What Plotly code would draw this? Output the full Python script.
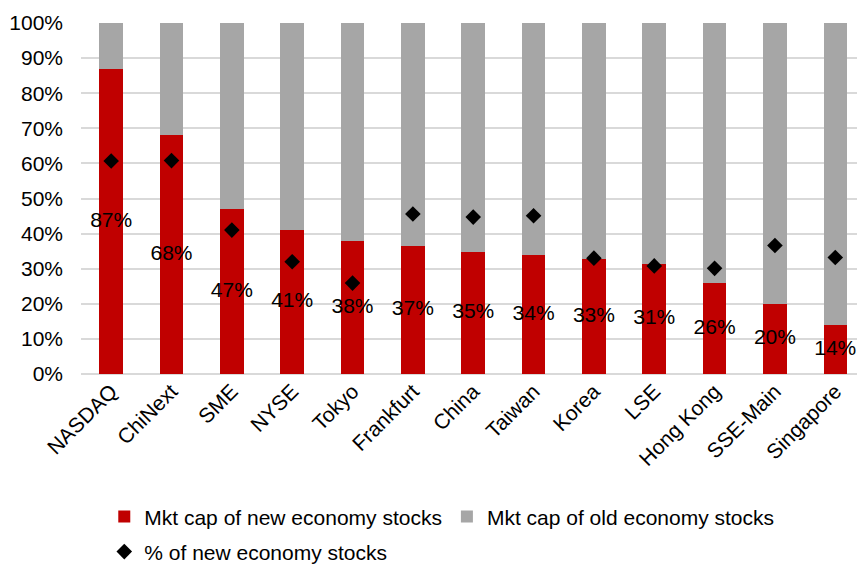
import plotly.graph_objects as go

categories = ["NASDAQ", "ChiNext", "SME", "NYSE", "Tokyo", "Frankfurt", "China",
              "Taiwan", "Korea", "LSE", "Hong Kong", "SSE-Main", "Singapore"]
new_cap = [0.87, 0.68, 0.47, 0.41, 0.38, 0.365, 0.347, 0.339, 0.329, 0.313, 0.26, 0.20, 0.14]
new_cap_labels = ["87%", "68%", "47%", "41%", "38%", "37%", "35%", "34%", "33%", "31%", "26%", "20%", "14%"]
old_cap = [1 - v for v in new_cap]
pct_new_stocks = [0.607, 0.608, 0.41, 0.32, 0.259, 0.456, 0.447, 0.451, 0.33, 0.308, 0.301, 0.366, 0.332]

RED = "#C00000"
GRAY = "#A6A6A6"
FONT = "Liberation Sans, Arial, sans-serif"
FS = 21

fig = go.Figure()
fig.add_trace(go.Bar(x=categories, y=new_cap, name="Mkt cap of new economy stocks",
                     marker=dict(color=RED, line=dict(width=0)), width=0.39, legend="legend"))
fig.add_trace(go.Bar(x=categories, y=old_cap, name="Mkt cap of old economy stocks",
                     marker=dict(color=GRAY, line=dict(width=0)), width=0.39, legend="legend"))
fig.add_trace(go.Scatter(x=categories, y=pct_new_stocks, mode="markers",
                         name="% of new economy stocks",
                         marker=dict(symbol="diamond", color="black", size=12),
                         legend="legend2"))
fig.add_trace(go.Scatter(x=categories, y=[v / 2 for v in new_cap], mode="text",
                         text=new_cap_labels, textposition="middle center",
                         textfont=dict(size=FS, color="black", family=FONT),
                         showlegend=False, hoverinfo="skip"))

fig.update_layout(
    width=857, height=565,
    margin=dict(l=81, r=0, t=23, b=191, autoexpand=False),
    barmode="stack",
    plot_bgcolor="white", paper_bgcolor="white",
    font=dict(family=FONT, size=FS, color="black"),
    xaxis=dict(type="category", range=[-0.5, 12.36], showgrid=False,
               showline=False, ticks="", tickangle=-45, automargin=False,
               tickfont=dict(size=FS, color="black")),
    yaxis=dict(range=[0, 1], dtick=0.1, tickformat=".0%", showgrid=True,
               gridcolor="#D9D9D9", gridwidth=1.5, zeroline=True,
               zerolinecolor="#D9D9D9", zerolinewidth=1.5, automargin=False,
               showline=False, ticks="", ticklabelstandoff=17,
               tickfont=dict(size=FS, color="black")),
    legend=dict(orientation="h", traceorder="normal", x=0.03, y=-0.407,
                xanchor="left", yanchor="middle",
                font=dict(size=FS, color="black"), itemwidth=30,
                bgcolor="rgba(0,0,0,0)"),
    legend2=dict(orientation="h", x=0.03, y=-0.507, xanchor="left", yanchor="middle",
                 font=dict(size=FS, color="black"), itemwidth=30,
                 bgcolor="rgba(0,0,0,0)"),
)

fig.write_html("out.html")
